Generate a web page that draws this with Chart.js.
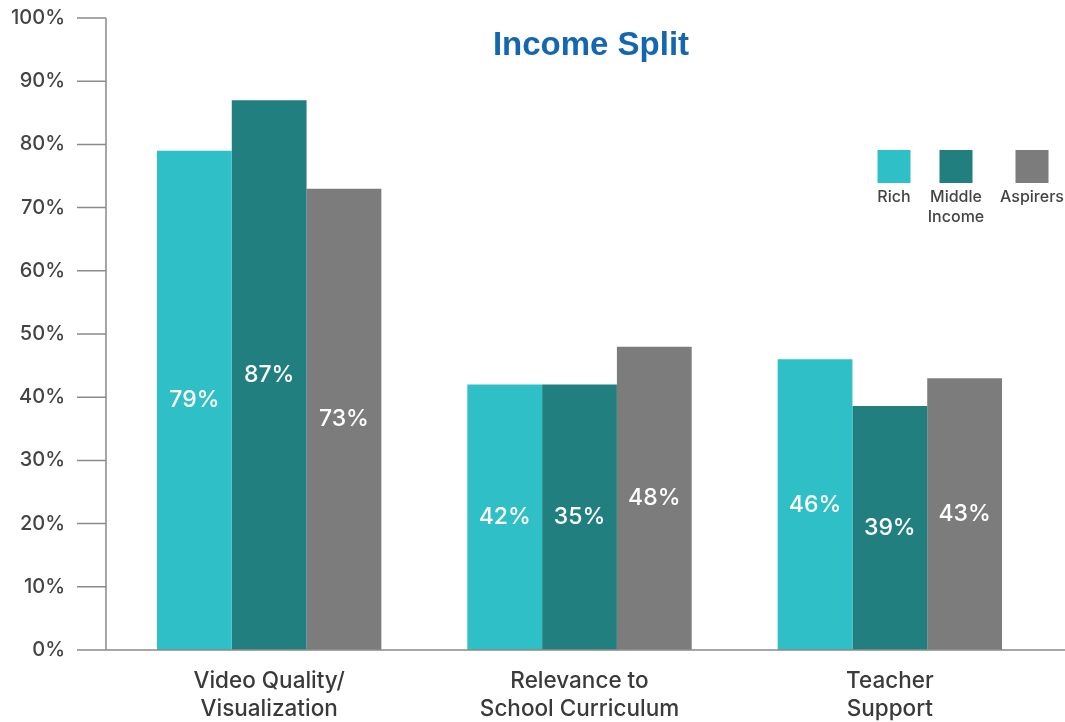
<!DOCTYPE html>
<html lang="en">
<head>
<meta charset="UTF-8">
<script src="https://cdn.jsdelivr.net/npm/chart.js"></script>
<style>
  html, body { margin: 0; padding: 0; background: #fff; }
  #wrap { position: relative; width: 1065px; height: 722px; }
</style>
</head>
<body>
<div id="wrap"><canvas id="myChart" width="1065" height="722"></canvas></div>
<script>
// chart data
const categories = [['Video Quality/', 'Visualization'], ['Relevance to', 'School Curriculum'], ['Teacher', 'Support']];
const seriesNames = ['Rich', 'Middle Income', 'Aspirers'];
const richValues = [79, 42, 46];
const middleValues = [87, 42, 38.6];
const aspirersValues = [73, 48, 43];
// printed labels (as shown on the bars)
const richLabels = ['79%', '42%', '46%'];
const middleLabels = ['87%', '35%', '39%'];
const aspirersLabels = ['73%', '48%', '43%'];
const yTicks = [0, 10, 20, 30, 40, 50, 60, 70, 80, 90, 100];

const colors = ['#2fbfc7', '#217f80', '#7b7c7b'];
const FONT = 'Inter, "Liberation Sans", Arial, sans-serif';
const labelSets = [richLabels, middleLabels, aspirersLabels];

// axis lines, tick marks, bar labels, title and legend
const decorPlugin = {
    id: 'decor',
    afterDatasetsDraw(chart) {
        const ctx = chart.ctx;
        const area = chart.chartArea;
        const y = chart.scales.y;
        const axisX = area.left - 8;
        ctx.save();
        ctx.strokeStyle = '#8a8a8a';
        ctx.lineWidth = 1.5;
        ctx.beginPath();
        ctx.moveTo(axisX, area.top);
        ctx.lineTo(axisX, area.bottom);
        ctx.moveTo(axisX, area.bottom);
        ctx.lineTo(chart.width, area.bottom);
        yTicks.forEach(t => {
            const py = y.getPixelForValue(t);
            ctx.moveTo(axisX - 29, py);
            ctx.lineTo(axisX, py);
        });
        ctx.stroke();

        // labels inside bars
        ctx.fillStyle = '#ffffff';
        ctx.font = '500 23px ' + FONT;
        ctx.textAlign = 'center';
        ctx.textBaseline = 'middle';
        chart.data.datasets.forEach((ds, i) => {
            chart.getDatasetMeta(i).data.forEach((bar, j) => {
                ctx.fillText(labelSets[i][j], bar.x, (bar.y + bar.base) / 2);
            });
        });

        // title
        ctx.fillStyle = '#1466b0';
        ctx.font = 'bold 33px "Liberation Sans", Arial, sans-serif';
        ctx.fillText('Income Split', 591, 46);

        // legend
        const legendX = [894, 956, 1032];
        ctx.font = '500 16px ' + FONT;
        ctx.textBaseline = 'alphabetic';
        seriesNames.forEach((name, i) => {
            ctx.fillStyle = colors[i];
            ctx.fillRect(legendX[i] - 16.5, 150, 33, 33);
            ctx.fillStyle = '#444';
            const words = name === 'Middle Income' ? ['Middle', 'Income'] : [name];
            words.forEach((w, k) => ctx.fillText(w, legendX[i], 202 + k * 20));
        });
        ctx.restore();
    }
};

const ctx = document.getElementById('myChart').getContext('2d');
new Chart(ctx, {
    type: 'bar',
    data: {
        labels: categories,
        datasets: [
            { label: seriesNames[0], data: richValues, backgroundColor: colors[0] },
            { label: seriesNames[1], data: middleValues, backgroundColor: colors[1] },
            { label: seriesNames[2], data: aspirersValues, backgroundColor: colors[2] }
        ]
    },
    options: {
        responsive: false,
        animation: false,
        layout: { padding: { top: 18, right: 20, left: 0, bottom: 0 } },
        datasets: { bar: { barPercentage: 1, categoryPercentage: 0.723, borderWidth: 0 } },
        scales: {
            x: {
                grid: { display: false },
                border: { display: false },
                afterFit(scale) { scale.height = 72; },
                ticks: {
                    color: '#3a3a3a',
                    font: { family: FONT, size: 22.5, weight: '500', lineHeight: 1.25 },
                    padding: 9,
                    maxRotation: 0
                }
            },
            y: {
                min: 0,
                max: 100,
                afterFit(scale) {
                    scale.width = 114;
                    scale.paddingTop = 0;
                    scale.paddingBottom = 0;
                },
                grid: { display: false },
                border: { display: false },
                ticks: {
                    stepSize: 10,
                    padding: 41,
                    color: '#444',
                    font: { family: FONT, size: 20, weight: '500' },
                    callback: v => v + '%'
                }
            }
        },
        plugins: {
            legend: { display: false },
            tooltip: { enabled: false }
        }
    },
    plugins: [decorPlugin]
});
</script>
</body>
</html>
